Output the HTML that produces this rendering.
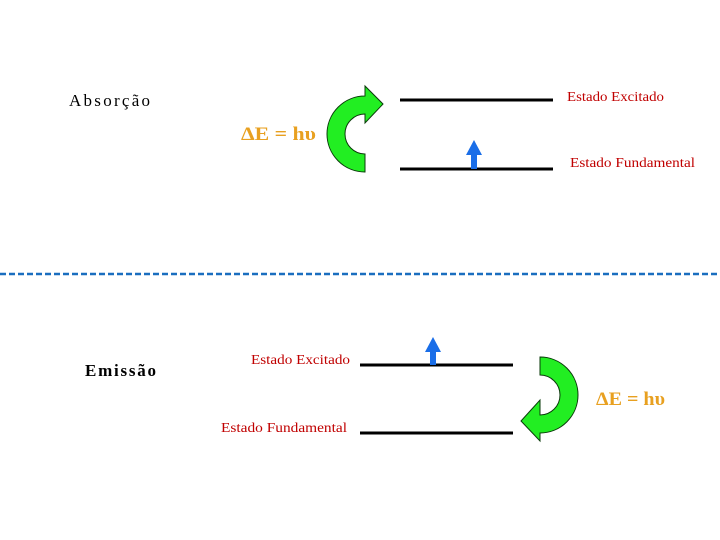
<!DOCTYPE html>
<html><head><meta charset="utf-8"><style>body{margin:0;background:#fff}svg{display:block}</style></head>
<body>
<svg width="720" height="540" viewBox="0 0 720 540" xmlns="http://www.w3.org/2000/svg" font-family="Liberation Serif, serif">
<rect width="720" height="540" fill="#fff"/>
<text x="69" y="106" font-size="17" textLength="81" lengthAdjust="spacing" fill="#000">Absorção</text>
<text x="241" y="140" font-size="19" font-weight="bold" textLength="75" lengthAdjust="spacingAndGlyphs" fill="#e8a020">ΔE = hυ</text>
<path d="M365,172 A38,38 0 0 1 365,96 L365,86 L383,104 L365,123 L365,114 A20,20 0 0 0 365,154 Z" fill="#22ee22" stroke="#0a3a0a" stroke-width="1"/>
<line x1="400" y1="100" x2="553" y2="100" stroke="#000" stroke-width="3"/>
<line x1="400" y1="169" x2="553" y2="169" stroke="#000" stroke-width="3"/>
<path d="M471,169 L471,155 L466,155 L474,140 L482,155 L477,155 L477,169 Z" fill="#1a6ee8"/>
<text x="567" y="101" font-size="14" textLength="97" lengthAdjust="spacingAndGlyphs" fill="#c00000">Estado Excitado</text>
<text x="570" y="167" font-size="14" textLength="125" lengthAdjust="spacingAndGlyphs" fill="#c00000">Estado Fundamental</text>
<line x1="0" y1="274" x2="720" y2="274" stroke="#1a6ebf" stroke-width="2.5" stroke-dasharray="6,3"/>
<text x="85" y="376" font-size="17" font-weight="bold" textLength="71" lengthAdjust="spacing" fill="#000">Emissão</text>
<text x="251" y="364" font-size="14" textLength="99" lengthAdjust="spacingAndGlyphs" fill="#c00000">Estado Excitado</text>
<text x="221" y="432" font-size="14" textLength="126" lengthAdjust="spacingAndGlyphs" fill="#c00000">Estado Fundamental</text>
<line x1="360" y1="365" x2="513" y2="365" stroke="#000" stroke-width="3"/>
<line x1="360" y1="433" x2="513" y2="433" stroke="#000" stroke-width="3"/>
<path d="M430,365 L430,352 L425,352 L433,337 L441,352 L436,352 L436,365 Z" fill="#1a6ee8"/>
<path d="M540,357 A38,38 0 0 1 540,433 L540,441 L521,421 L540,400 L540,415 A20,20 0 0 0 540,375 Z" fill="#22ee22" stroke="#0a3a0a" stroke-width="1"/>
<text x="596" y="405" font-size="19" font-weight="bold" textLength="69" lengthAdjust="spacingAndGlyphs" fill="#e8a020">ΔE = hυ</text>
</svg>
</body></html>
